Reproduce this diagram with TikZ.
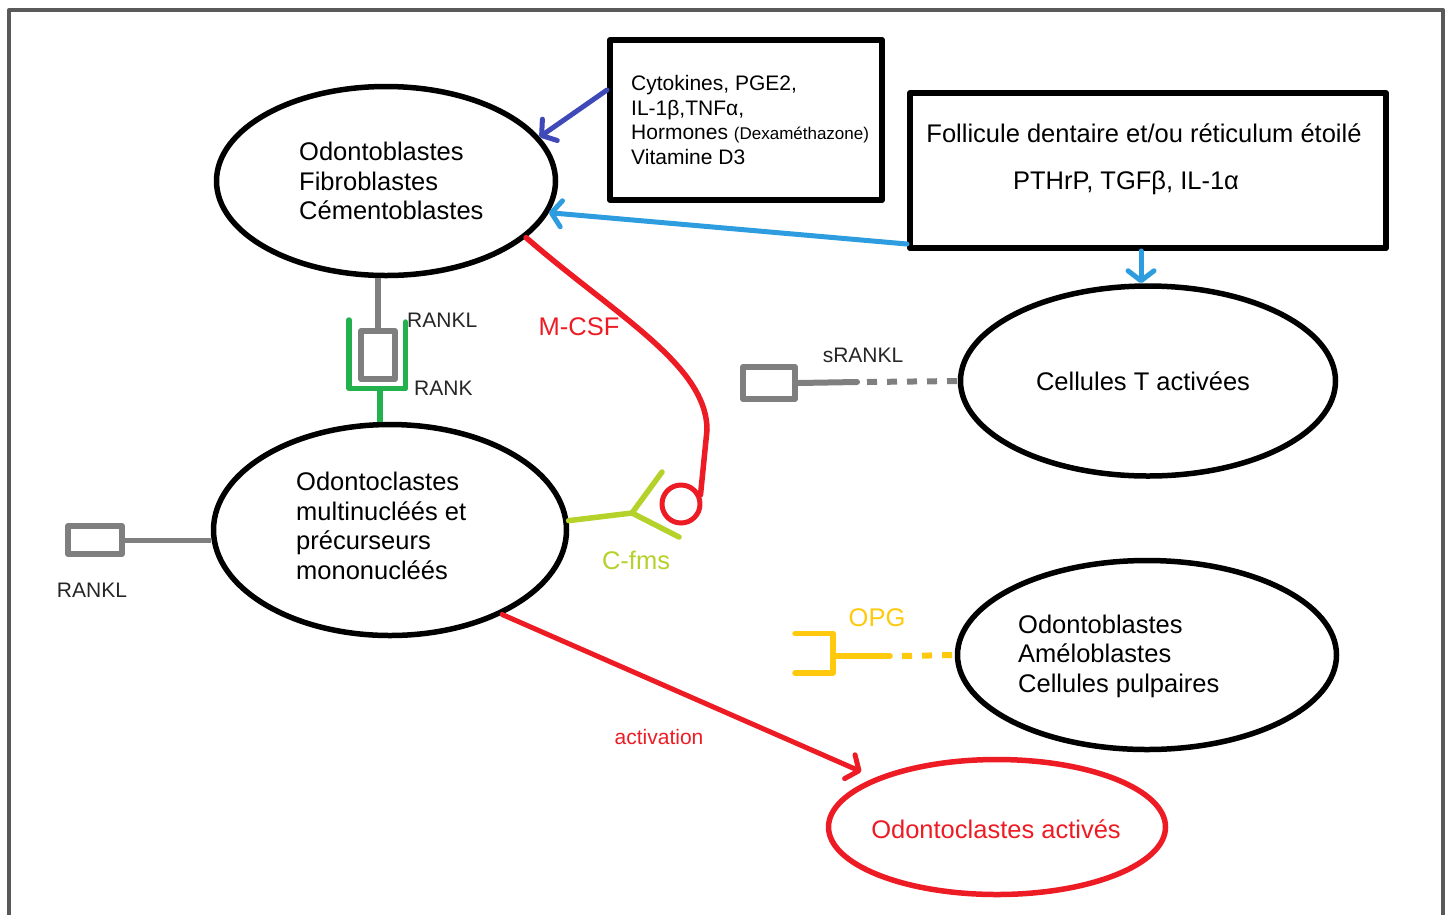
\documentclass[tikz,border=0pt]{standalone}
\usepackage{fontspec}
\setmainfont{Liberation Sans}
\usetikzlibrary{shapes.geometric,arrows.meta}
\definecolor{pred}{HTML}{ED1C24}
\definecolor{pindigo}{HTML}{3F4AB8}
\definecolor{pturq}{HTML}{2E9DE0}
\definecolor{pgreen}{HTML}{22B14C}
\definecolor{plime}{HTML}{B5D22A}
\definecolor{pgold}{HTML}{FFC90E}
\definecolor{pgray}{HTML}{7F7F7F}
\definecolor{framegray}{HTML}{595959}
\definecolor{labelgray}{HTML}{262626}
\begin{document}
\begin{tikzpicture}[x=1pt,y=-1pt,line join=round,
  cell/.style={ellipse,draw=black,line width=5.5pt,inner sep=0pt},
  srcbox/.style={rectangle,draw=black,line width=6pt,inner sep=0pt},
  txt/.style={inner sep=0pt,font=\fontsize{25.5}{29.5}\selectfont,align=left},
  boxtxt/.style={inner sep=0pt,font=\fontsize{21}{24.5}\selectfont,align=left},
  small/.style={inner sep=0pt,font=\fontsize{21}{24}\selectfont},
  parrow/.style={line width=5pt,line cap=round,-{Straight Barb[round,length=10pt,width=26pt]}},
  ligand/.style={draw=pgray,line width=6pt,inner sep=0pt,rectangle},
  link/.style={line width=5.5pt,line cap=round},
  dotlink/.style={line width=6pt,dash pattern=on 10pt off 10pt},
]
\useasboundingbox (0,0) rectangle (1450,914);
\draw[framegray,line width=4pt] (9,930) -- (9,10) -- (1443,10) -- (1443,930);

% cells
\node[cell,minimum width=339pt,minimum height=189pt] (e1) at (386,181) {};
\node[cell,minimum width=353pt,minimum height=211pt] (e2) at (390,530) {};
\node[cell,minimum width=375pt,minimum height=190pt] (e3) at (1148,381) {};
\node[cell,minimum width=379pt,minimum height=189pt] (e4) at (1147,655) {};
\node[cell,draw=pred,minimum width=337pt,minimum height=135pt] (e5) at (997,827) {};

\node[txt,anchor=west] (e1t) at (299,181) {Odontoblastes\\Fibroblastes\\Cémentoblastes};
\node[txt,anchor=west] (e2t) at (296,526) {Odontoclastes\\multinucléés et\\précurseurs\\mononucléés};
\node[txt] (e3t) at (1143,381) {Cellules T activées};
\node[txt,anchor=west] (e4t) at (1018,656) {Odontoblastes\\Améloblastes\\Cellules pulpaires};
\node[txt,text=pred] (e5t) at (996,829) {Odontoclastes activés};

% source boxes
\node[srcbox,minimum width=272pt,minimum height=160pt] (box1) at (746,120) {};
\node[boxtxt,anchor=west] (box1t) at (631,120) {Cytokines, PGE2,\\IL-1β,TNFα,\\Hormones {\fontsize{17}{18}\selectfont(Dexaméthazone)}\\Vitamine D3};
\node[srcbox,minimum width=476pt,minimum height=155pt] (box2) at (1148,170.5) {};
\node[txt] (box2a) at (1144,133) {Follicule dentaire et/ou réticulum étoilé};
\node[txt] (box2b) at (1126,183) {PTHrP, TGFβ, IL-1α};

% arrows from sources
\draw[parrow,pindigo] ([yshift=30pt]box1.west) -- (e1.16);
\draw[parrow,pturq] ([yshift=7pt]box2.south west) -- (e1.-11);
\draw[parrow,pturq] ([xshift=-7pt]box2.south) -- ([xshift=-7pt]e3.north);

% RANKL / RANK between e1 and e2
\node[ligand,minimum width=34pt,minimum height=48pt] (grect) at (378,355) {};
\draw[pgray,line width=6pt] (grect.north) -- (grect.north |- e1.south);
\draw[pgreen,link] (349,320) -- (349,388.5) -- (405.5,388.5) -- (405.5,322);
\coordinate (rankstem) at (380,388.5);
\draw[pgreen,line width=6pt] (rankstem) -- (rankstem |- e2.north);
\node[small,text=labelgray,anchor=west] (ranklA) at (407,320) {RANKL};
\node[small,text=labelgray,anchor=west] (rankA) at (414,388) {RANK};

% M-CSF / C-fms
\node[circle,draw=pred,line width=5pt,minimum size=38pt,inner sep=0pt] (csf) at (681,504) {};
\draw[pred,link] (e1.-22) .. controls (615,315) and (707,365) .. (707,430) -- (csf.25);
\node[txt,text=pred] (mcsf) at (579,327) {M-CSF};
\coordinate (cfmsv) at (632,513);
\draw[plime,link] (e2.3) -- (cfmsv);
\draw[plime,link] (662,472) -- (cfmsv) -- (679,537);
\node[txt,text=plime] (cfms) at (636,560) {C-fms};

% sRANKL
\node[ligand,minimum width=52pt,minimum height=32pt] (srect) at (769,383) {};
\coordinate (sjoin) at (857,382);
\draw[pgray,line width=6pt,line cap=round] (srect.east) -- (sjoin);
\draw[pgray,dotlink] (867,382) -- (e3.west);
\node[small,text=labelgray] (srankl) at (863,355) {sRANKL};

% OPG
\coordinate (opgv) at (833,656);
\draw[pgold,link] (795,633.5) -- (833,633.5) -- (833,673) -- (795,673);
\draw[pgold,link] (opgv) -- (890,656);
\draw[pgold,dotlink] (902,656) -- (e4.west);
\node[txt,text=pgold] (opg) at (877,618) {OPG};

% left RANKL
\node[ligand,minimum width=54pt,minimum height=28pt] (lrect) at (95,540) {};
\draw[pgray,line width=5pt] (lrect.east) -- (e2.west |- lrect.east);
\node[small,text=labelgray] (lrankl) at (92,590) {RANKL};

% activation
\draw[parrow,pred,shorten >=15pt] (e2.-37) -- (e5.158);
\node[small,text=pred] (act) at (659,737) {activation};
\end{tikzpicture}
\end{document}
